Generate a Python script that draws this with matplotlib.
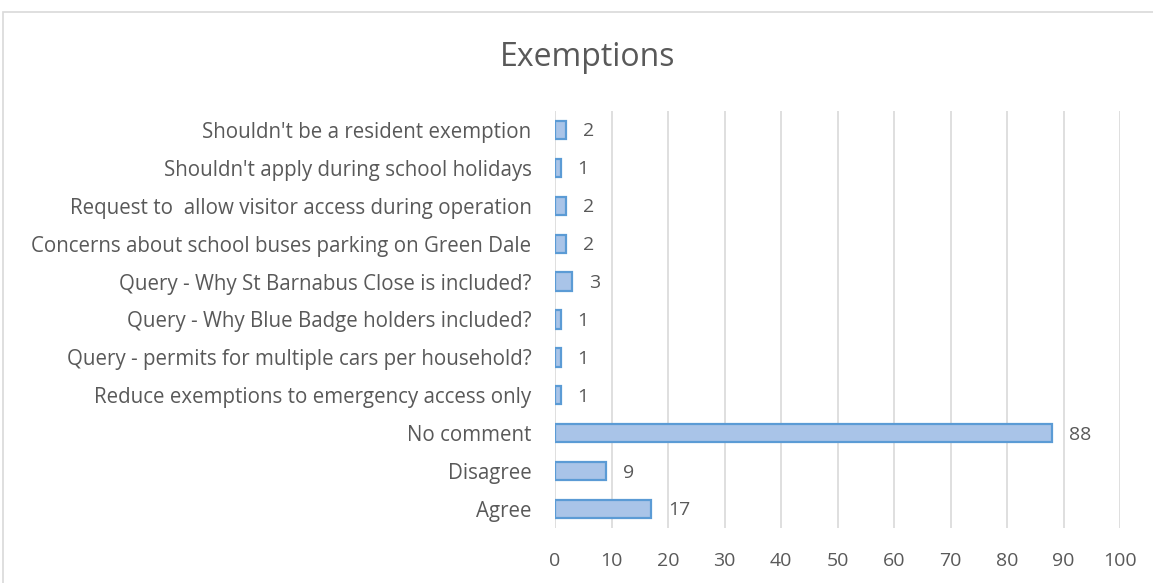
import matplotlib
matplotlib.use('Agg')
import matplotlib.pyplot as plt
from matplotlib.patches import Rectangle

# Categories listed bottom to top, as drawn on the y axis
categories = [
    "Agree",
    "Disagree",
    "No comment",
    "Reduce exemptions to emergency access only",
    "Query - permits for multiple cars per household?",
    "Query - Why Blue Badge holders included?",
    "Query - Why St Barnabus Close is included?",
    "Concerns about school buses parking on Green Dale",
    "Request to  allow visitor access during operation",
    "Shouldn't apply during school holidays",
    "Shouldn't be a resident exemption",
]
counts = [17, 9, 88, 1, 1, 1, 3, 2, 2, 1, 2]
x_ticks = [0, 10, 20, 30, 40, 50, 60, 70, 80, 90, 100]

text_grey = '#595959'
plt.rcParams['font.family'] = ['Open Sans', 'DejaVu Sans']

fig = plt.figure(figsize=(11.53, 5.83), dpi=100)
# chart frame
fig.patches.append(Rectangle((3 / 1153, -0.1), 1.2, 1 - 12 / 583 + 0.1,
                             transform=fig.transFigure, fill=False,
                             edgecolor='#d9d9d9', linewidth=1.2))

ax = fig.add_axes([555 / 1153, 1 - 528 / 583, 565 / 1153, 417 / 583])
y = range(len(categories))
ax.barh(y, counts, height=0.48, color='#a9c4e8', edgecolor='#5b9bd5', linewidth=1.6, zorder=3)

for yi, v in zip(y, counts):
    ax.annotate(str(v), (v, yi), xytext=(12, -1), textcoords='offset points',
                va='center', ha='left', fontsize=14, color=text_grey)

ax.set_xlim(0, 100)
ax.set_ylim(-0.5, len(categories) - 0.5)
ax.set_xticks(x_ticks)
ax.set_yticks(list(y))
ax.set_yticklabels(categories, fontsize=14.8)
ax.grid(axis='x', color='#d9d9d9', linewidth=1.2, zorder=0)
for s in ax.spines.values():
    s.set_visible(False)
ax.tick_params(axis='both', length=0, colors=text_grey)
ax.tick_params(axis='x', labelsize=14, pad=17)
ax.tick_params(axis='y', pad=17)

fig.text(588 / 1153, 1 - 58 / 583, 'Exemptions', ha='center', va='center',
         fontsize=23, color=text_grey)

plt.savefig('out.png', dpi=100)
plt.close()
